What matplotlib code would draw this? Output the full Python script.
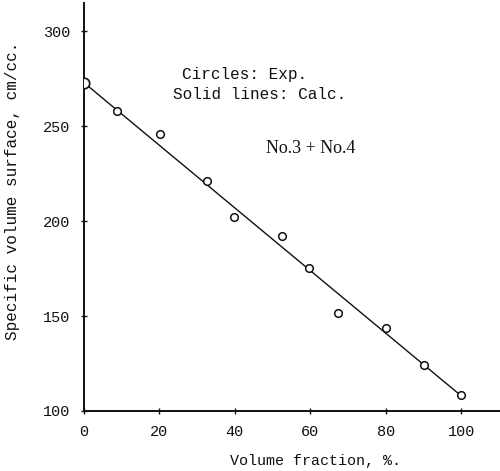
import matplotlib

matplotlib.use("Agg")
import matplotlib.pyplot as plt  # noqa: E402

exp_fraction = [0, 8.8, 20.2, 32.6, 39.8, 52.5, 59.7, 67.4, 80.1, 90.2, 100]
exp_surface = [273, 258, 246, 221, 202, 192, 175.5, 151.5, 144, 124, 108.5]
calc_fraction = [0, 100]
calc_surface = [273, 108]

x_ticks = [0, 20, 40, 60, 80, 100]
y_ticks = [100, 150, 200, 250, 300]

INK = "#111111"
MONO = "Liberation Mono"

fig = plt.figure(figsize=(5.0, 4.71), dpi=100)
ax = fig.add_axes([0.168, 0.1274, 0.832, 0.8662])

ax.plot(calc_fraction, calc_surface, color=INK, linewidth=1.0, zorder=2)
ax.plot(exp_fraction[1:], exp_surface[1:], linestyle="none", marker="o",
        markersize=5.5, markerfacecolor="white", markeredgecolor=INK,
        markeredgewidth=1.1, zorder=3)
# the 0 % point is drawn larger in the original
ax.plot(exp_fraction[:1], exp_surface[:1], linestyle="none", marker="o",
        markersize=7.5, markerfacecolor="white", markeredgecolor=INK,
        markeredgewidth=1.2, zorder=3)

ax.set_xlim(0, 110.3)
ax.set_ylim(100, 315)
ax.set_xticks(x_ticks)
ax.set_yticks(y_ticks)
ax.tick_params(direction="inout", length=4, width=1.0, colors=INK,
               labelsize=11, pad=8)
for lab in ax.get_xticklabels() + ax.get_yticklabels():
    lab.set_family(MONO)

for side in ("top", "right"):
    ax.spines[side].set_visible(False)
for side in ("left", "bottom"):
    ax.spines[side].set_color(INK)
    ax.spines[side].set_linewidth(1.4)

fig.text(0.026, 0.595, "Specific volume surface, cm/cc.", rotation=90,
         ha="center", va="center", fontsize=11.5, family=MONO, color=INK)
fig.text(0.632, 0.021, "Volume fraction, %.", ha="center", va="center",
         fontsize=10.8, family=MONO, color=INK)

fig.text(0.364, 0.842, "Circles: Exp.", ha="left", va="center",
         fontsize=11.5, family=MONO, color=INK)
fig.text(0.346, 0.800, "Solid lines: Calc.", ha="left", va="center",
         fontsize=11.5, family=MONO, color=INK)
fig.text(0.532, 0.684, "No.3 + No.4", ha="left", va="center",
         fontsize=13, family="Liberation Serif", color=INK)

fig.savefig("out.png", dpi=100, facecolor="white")
